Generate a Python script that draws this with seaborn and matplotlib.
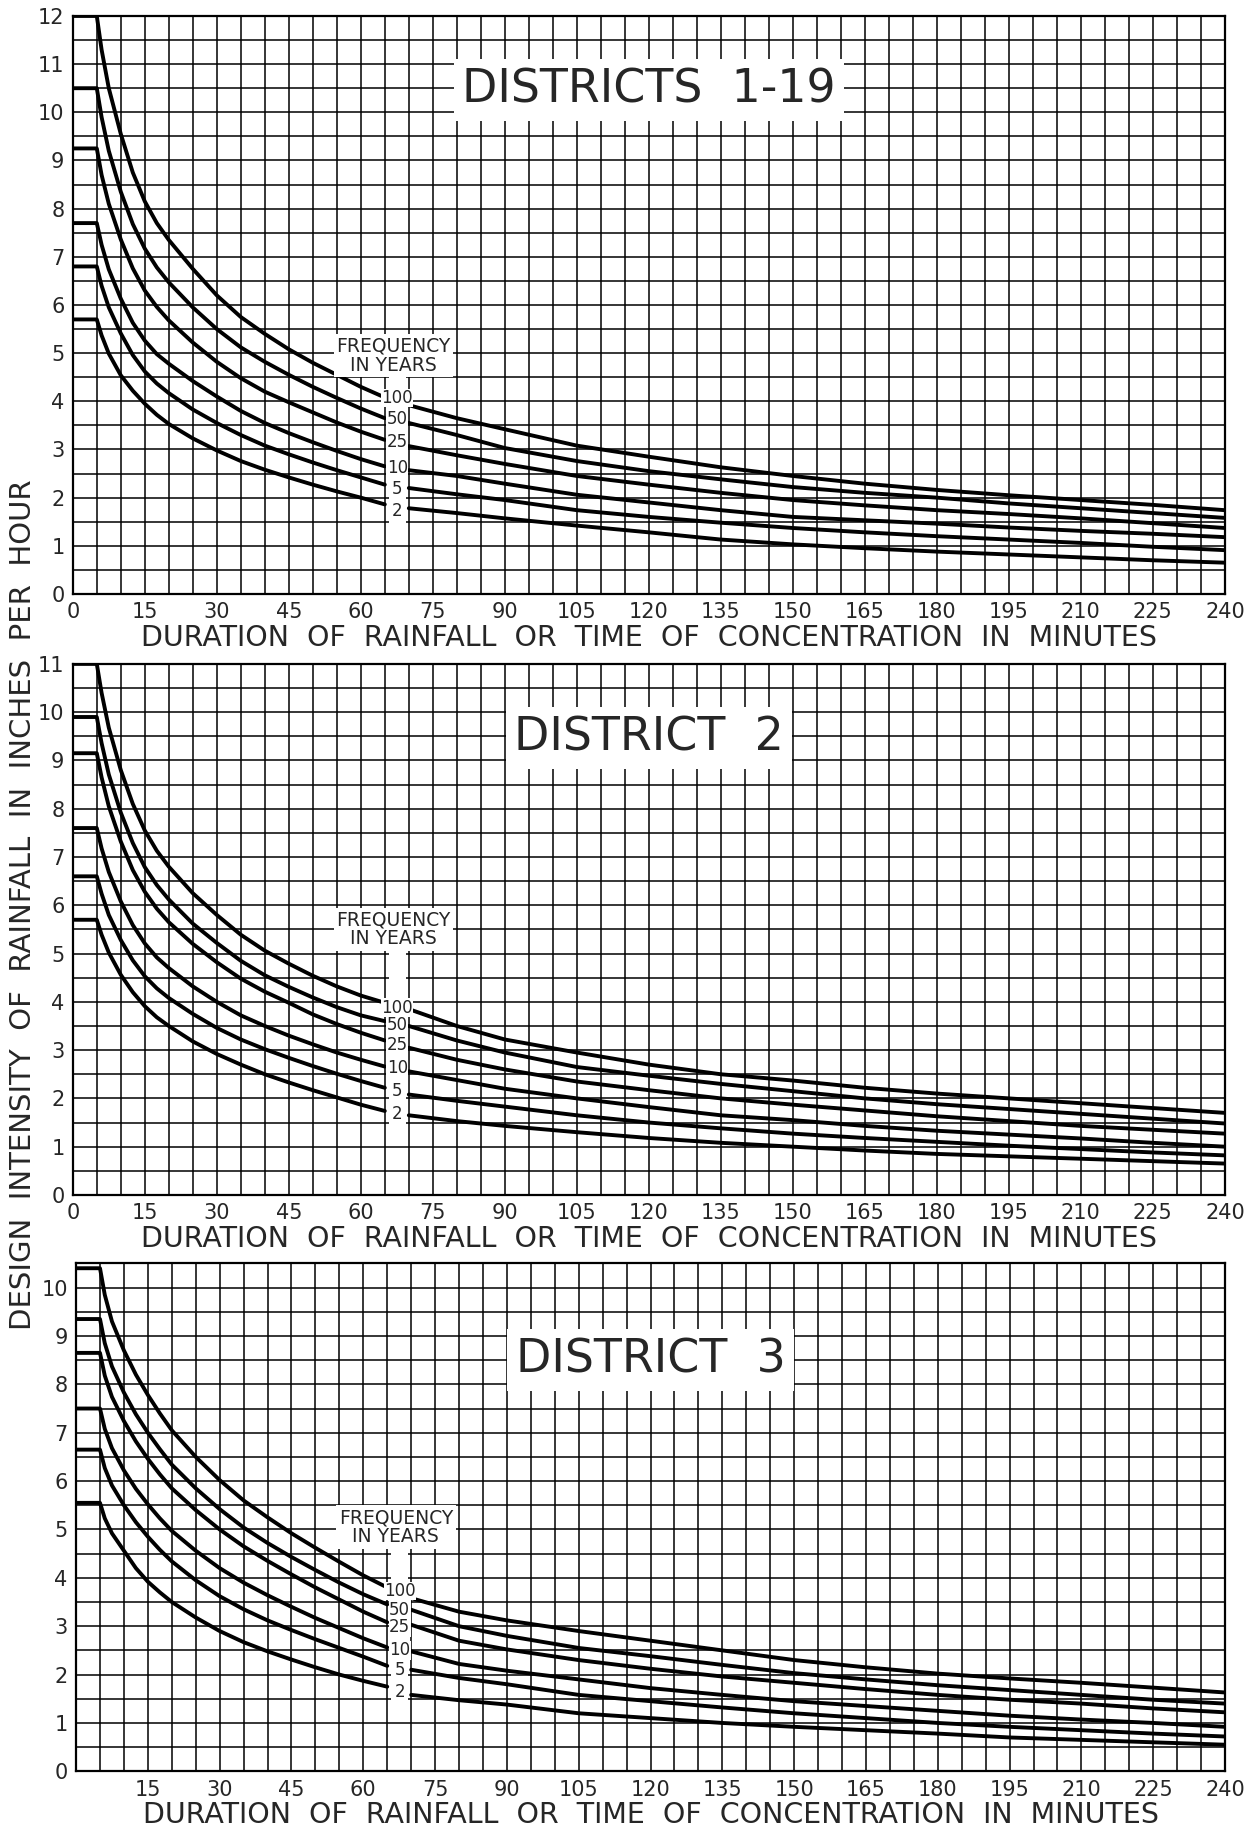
import matplotlib
matplotlib.use("Agg")
import matplotlib.pyplot as plt
import seaborn as sns
import pandas as pd

durations = [0, 5, 6, 7.5, 10, 12.5, 15, 17.5, 20, 25, 30, 35, 40, 45, 50, 55, 60, 65,
             70, 80, 90, 105, 120, 135, 150, 165, 180, 195, 210, 225, 240]
frequencies = [100, 50, 25, 10, 5, 2]

# Districts 1-19 (inches per hour)
d119_100 = [12, 12, 11.3, 10.5, 9.55, 8.75, 8.15, 7.7, 7.35, 6.75, 6.2, 5.75, 5.4, 5.08, 4.8, 4.55, 4.3, 4.08,
            3.92, 3.65, 3.42, 3.08, 2.85, 2.63, 2.45, 2.29, 2.16, 2.05, 1.95, 1.85, 1.74]
d119_50 = [10.5, 10.5, 9.9, 9.2, 8.35, 7.68, 7.17, 6.78, 6.47, 5.95, 5.5, 5.12, 4.82, 4.55, 4.3, 4.07, 3.85, 3.65,
           3.55, 3.3, 3.03, 2.76, 2.55, 2.38, 2.22, 2.1, 2.0, 1.88, 1.78, 1.68, 1.58]
d119_25 = [9.25, 9.25, 8.7, 8.1, 7.36, 6.76, 6.3, 5.96, 5.68, 5.22, 4.82, 4.48, 4.2, 3.98, 3.77, 3.56, 3.37, 3.2,
           3.07, 2.88, 2.7, 2.45, 2.27, 2.1, 1.95, 1.84, 1.74, 1.66, 1.57, 1.47, 1.37]
d119_10 = [7.7, 7.7, 7.25, 6.74, 6.13, 5.63, 5.26, 4.98, 4.78, 4.42, 4.1, 3.8, 3.55, 3.34, 3.15, 2.97, 2.8, 2.65,
           2.57, 2.45, 2.29, 2.06, 1.9, 1.74, 1.6, 1.53, 1.46, 1.38, 1.31, 1.25, 1.18]
d119_5 = [6.8, 6.8, 6.4, 5.95, 5.41, 4.96, 4.62, 4.37, 4.17, 3.83, 3.55, 3.3, 3.08, 2.9, 2.73, 2.57, 2.42, 2.27,
          2.2, 2.07, 1.95, 1.74, 1.6, 1.48, 1.37, 1.28, 1.2, 1.13, 1.06, 0.98, 0.91]
d119_2 = [5.7, 5.7, 5.37, 4.99, 4.54, 4.22, 3.95, 3.72, 3.53, 3.23, 2.98, 2.76, 2.58, 2.42, 2.27, 2.13, 2.0, 1.86,
          1.78, 1.68, 1.57, 1.42, 1.28, 1.13, 1.03, 0.95, 0.88, 0.82, 0.76, 0.7, 0.65]
d119_label_y = [4.07, 3.63, 3.15, 2.61, 2.17, 1.73]

# District 2
d2_100 = [11, 11, 10.4, 9.68, 8.8, 8.1, 7.55, 7.13, 6.8, 6.25, 5.8, 5.39, 5.06, 4.79, 4.54, 4.32, 4.13, 3.98,
          3.85, 3.5, 3.22, 2.95, 2.7, 2.5, 2.37, 2.22, 2.1, 2.0, 1.9, 1.8, 1.7]
d2_50 = [9.9, 9.9, 9.36, 8.71, 7.92, 7.29, 6.79, 6.42, 6.12, 5.62, 5.22, 4.85, 4.55, 4.31, 4.09, 3.89, 3.72, 3.6,
         3.5, 3.2, 2.95, 2.65, 2.47, 2.3, 2.15, 2.0, 1.88, 1.78, 1.68, 1.58, 1.48]
d2_25 = [9.15, 9.15, 8.65, 8.05, 7.32, 6.73, 6.28, 5.93, 5.65, 5.2, 4.82, 4.48, 4.21, 3.98, 3.74, 3.54, 3.36, 3.2,
         3.05, 2.8, 2.6, 2.35, 2.17, 2.0, 1.87, 1.75, 1.63, 1.53, 1.43, 1.35, 1.27]
d2_10 = [7.6, 7.6, 7.18, 6.69, 6.08, 5.59, 5.21, 4.92, 4.7, 4.32, 4.0, 3.72, 3.5, 3.3, 3.12, 2.95, 2.8, 2.66,
         2.56, 2.38, 2.2, 2.0, 1.82, 1.65, 1.55, 1.43, 1.33, 1.25, 1.17, 1.08, 1.0]
d2_5 = [6.6, 6.6, 6.24, 5.8, 5.28, 4.86, 4.53, 4.28, 4.08, 3.75, 3.46, 3.22, 3.02, 2.84, 2.67, 2.51, 2.36, 2.22,
        2.08, 1.95, 1.83, 1.65, 1.5, 1.38, 1.27, 1.18, 1.1, 1.02, 0.95, 0.88, 0.82]
d2_2 = [5.7, 5.7, 5.39, 5.02, 4.56, 4.2, 3.91, 3.68, 3.5, 3.18, 2.92, 2.7, 2.5, 2.33, 2.17, 2.02, 1.87, 1.74,
        1.65, 1.53, 1.43, 1.3, 1.18, 1.08, 1.0, 0.92, 0.85, 0.8, 0.75, 0.7, 0.65]
d2_label_y = [3.88, 3.52, 3.1, 2.62, 2.15, 1.67]

# District 3
d3_100 = [10.4, 10.4, 9.85, 9.3, 8.7, 8.2, 7.78, 7.4, 7.05, 6.5, 6.02, 5.6, 5.25, 4.92, 4.62, 4.33, 4.05, 3.8,
          3.58, 3.3, 3.12, 2.9, 2.7, 2.5, 2.3, 2.15, 2.02, 1.92, 1.83, 1.73, 1.63]
d3_50 = [9.35, 9.35, 8.85, 8.37, 7.83, 7.38, 7.0, 6.66, 6.34, 5.85, 5.42, 5.04, 4.72, 4.43, 4.16, 3.9, 3.66, 3.45,
         3.34, 3.0, 2.8, 2.55, 2.38, 2.2, 2.03, 1.9, 1.78, 1.68, 1.58, 1.48, 1.4]
d3_25 = [8.65, 8.65, 8.18, 7.74, 7.24, 6.82, 6.46, 6.14, 5.85, 5.4, 5.0, 4.65, 4.35, 4.07, 3.8, 3.55, 3.3, 3.08,
         3.03, 2.7, 2.52, 2.3, 2.12, 1.96, 1.83, 1.7, 1.58, 1.48, 1.4, 1.3, 1.22]
d3_10 = [7.5, 7.5, 7.08, 6.68, 6.22, 5.84, 5.52, 5.23, 4.97, 4.56, 4.2, 3.9, 3.64, 3.4, 3.17, 2.96, 2.75, 2.56,
         2.48, 2.22, 2.08, 1.9, 1.72, 1.58, 1.45, 1.35, 1.25, 1.15, 1.07, 1.0, 0.92]
d3_5 = [6.65, 6.65, 6.27, 5.91, 5.5, 5.15, 4.85, 4.58, 4.34, 3.95, 3.62, 3.35, 3.12, 2.92, 2.73, 2.55, 2.37, 2.18,
        2.1, 1.93, 1.8, 1.58, 1.45, 1.32, 1.2, 1.1, 1.0, 0.92, 0.85, 0.78, 0.72]
d3_2 = [5.55, 5.55, 5.23, 4.92, 4.56, 4.2, 3.92, 3.7, 3.5, 3.18, 2.9, 2.67, 2.48, 2.31, 2.15, 2.0, 1.87, 1.75,
        1.58, 1.47, 1.38, 1.2, 1.1, 1.0, 0.92, 0.85, 0.78, 0.7, 0.65, 0.6, 0.55]
d3_label_y = [3.73, 3.34, 2.98, 2.5, 2.1, 1.65]

panels = [
    ("DISTRICTS  1-19", 12, [d119_100, d119_50, d119_25, d119_10, d119_5, d119_2], d119_label_y, 10.46, 4.95,
     [0.058, 0.6763, 0.918, 0.315], list(range(0, 241, 15))),
    ("DISTRICT  2", 11, [d2_100, d2_50, d2_25, d2_10, d2_5, d2_2], d2_label_y, 9.47, 5.5,
     [0.058, 0.3488, 0.918, 0.2894], list(range(0, 241, 15))),
    ("DISTRICT  3", 10.5, [d3_100, d3_50, d3_25, d3_10, d3_5, d3_2], d3_label_y, 8.5, 5.05,
     [0.0606, 0.0347, 0.9155, 0.2768], list(range(15, 241, 15))),
]

sns.set_theme(style="white")
plt.rcParams["font.family"] = ["DejaVu Sans"]

fig = plt.figure(figsize=(12.55, 18.35), dpi=100)

for title, ymax, curves, label_y, title_y, freq_y, rect, xticks in panels:
    ax = fig.add_axes(rect)
    rows = []
    for freq, vals in zip(frequencies, curves):
        for d, v in zip(durations, vals):
            rows.append({"duration": d, "intensity": v, "freq": freq,
                         "seg": "a" if d <= 65 else "b"})
    df = pd.DataFrame(rows)
    sns.lineplot(data=df, x="duration", y="intensity", hue="freq", units="seg",
                 estimator=None, palette={f: "black" for f in frequencies},
                 legend=False, linewidth=2.8, ax=ax, zorder=3)

    ax.set_xlim(0, 240)
    ax.set_ylim(0, ymax)
    ax.set_xticks(xticks)
    ax.set_xticks(range(0, 241, 5), minor=True)
    ax.set_yticks(range(0, int(ymax) + 1))
    ax.set_yticks([i * 0.5 for i in range(int(ymax * 2) + 1)], minor=True)
    ax.grid(which="both", color="black", linewidth=1.1)
    ax.set_axisbelow(True)
    ax.tick_params(which="both", length=0, labelsize=15, pad=6)
    for s in ax.spines.values():
        s.set_color("black")
        s.set_linewidth(1.6)

    ax.set_xlabel("DURATION  OF  RAINFALL  OR  TIME  OF  CONCENTRATION  IN  MINUTES",
                  fontsize=20.5, labelpad=1)
    ax.set_ylabel("")

    # white column behind the frequency labels
    ax.axvspan(65.8, 69.4, ymin=(label_y[-1] - 0.3) / ymax, ymax=(freq_y - 0.3) / ymax,
               facecolor="white", edgecolor="none", zorder=2)

    ax.text(120, title_y, title, ha="center", va="center", fontsize=33, zorder=5,
            bbox=dict(facecolor="white", edgecolor="none", pad=6))
    ax.text(66.8, freq_y, "FREQUENCY\nIN YEARS", ha="center", va="center", fontsize=13.5,
            linespacing=1.0, zorder=5, bbox=dict(facecolor="white", edgecolor="none", pad=2))
    for freq, ly in zip(frequencies, label_y):
        ax.text(67.6, ly, str(freq), ha="center", va="center", fontsize=12, zorder=5,
                bbox=dict(facecolor="white", edgecolor="none", pad=0.3))

fig.text(0.018, 0.507, "DESIGN  INTENSITY  OF  RAINFALL  IN  INCHES  PER  HOUR",
         rotation=90, ha="center", va="center", fontsize=21)

fig.savefig("out.png", dpi=100, facecolor="white")
